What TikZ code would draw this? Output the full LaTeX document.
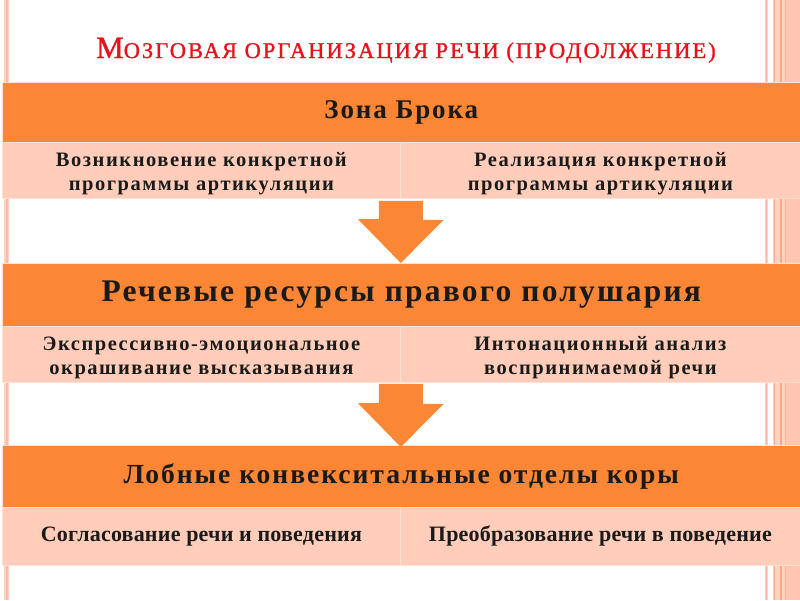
\documentclass[tikz,border=0pt]{standalone}
\usepackage{fontspec}
\setmainfont{Liberation Serif}
\newfontfamily\hdrfont[LetterSpace=7]{Liberation Serif}
\newfontfamily\cellfont[LetterSpace=7.5]{Liberation Serif}
\newfontfamily\lowfont[LetterSpace=1]{Liberation Serif}
\newfontfamily\titlefont[LetterSpace=9,FakeBold=1.2]{Liberation Serif}
\usetikzlibrary{calc}
\definecolor{org}{HTML}{FA8636}
\definecolor{lite}{HTML}{FFCDB9}
\definecolor{litebord}{HTML}{FFE1D4}
\definecolor{ttl}{HTML}{E5131B}
\definecolor{deco}{HTML}{FFD3C2}
\definecolor{decob}{HTML}{FFC7B2}
\definecolor{decod}{HTML}{F8A98C}
\definecolor{txt}{HTML}{1A1A1A}
\begin{document}
\begin{tikzpicture}[x=1pt,y=-1pt,
  hdr/.style={fill=org, draw=litebord, line width=0.6pt, minimum width=798pt, anchor=north west, inner sep=0pt, text=txt},
  cell/.style={fill=lite, draw=litebord, line width=0.8pt, minimum height=56pt, anchor=north west, inner sep=0pt, align=center, text=txt, font=\cellfont\bfseries\fontsize{20.5}{24.5}\selectfont},
  arrowc/.style={fill=org, draw=none}
]
\useasboundingbox (0,0) rectangle (800,600);
\fill[white] (0,0) rectangle (800,600);
% side decorations
\fill[deco] (4,0) rectangle (9,600);
\fill[decod!60!deco] (5.5,0) rectangle (7.5,600);
\fill[deco] (765,0) rectangle (768,600);
\fill[decod!70!deco] (766,0) rectangle (767,600);
\fill[deco] (772.5,0) rectangle (785,600);
\fill[decob] (785,0) rectangle (800,600);
\fill[decod] (773.5,0) rectangle (775,600);
\fill[decod] (779.5,0) rectangle (781.5,600);
\fill[decod!60!decob] (784.5,0) rectangle (786,600);
% title
\node[text=ttl, anchor=base, inner sep=0pt] (title) at (406,58)
  {\titlefont\fontsize{31}{31}\selectfont М\fontsize{22.5}{22.5}\selectfont ОЗГОВАЯ ОРГАНИЗАЦИЯ РЕЧИ (ПРОДОЛЖЕНИЕ)};
% block 1
\node[hdr, minimum height=60pt, font=\hdrfont\bfseries\fontsize{27}{31}\selectfont] (h1) at (2,82) {Зона Брока};
\node[cell, minimum width=398pt] (r1a) at (2,142) {\rule{0pt}{21pt}Возникновение конкретной\\программы артикуляции};
\node[cell, minimum width=400pt] (r1b) at (400,142) {\rule{0pt}{21pt}Реализация конкретной\\программы артикуляции};
% block 2
\node[hdr, minimum height=63pt, font=\hdrfont\bfseries\fontsize{31.5}{35}\selectfont] (h2) at (2,263) {Речевые ресурсы правого полушария};
\node[cell, minimum width=398pt] (r2a) at (2,326) {\rule{0pt}{21pt}Экспрессивно-эмоциональное\\окрашивание высказывания};
\node[cell, minimum width=400pt] (r2b) at (400,326) {\rule{0pt}{21pt}Интонационный анализ\\воспринимаемой речи};
% block 3
\node[hdr, minimum height=62pt, font=\hdrfont\bfseries\fontsize{27.6}{31}\selectfont] (h3) at (2,445) {Лобные конвекситальные отделы коры};
\node[cell, minimum width=398pt, minimum height=58pt, font=\lowfont\bfseries\fontsize{22}{24}\selectfont] (r3a) at (2,507) {Согласование речи и поведения};
\node[cell, minimum width=400pt, minimum height=58pt, font=\lowfont\bfseries\fontsize{22}{24}\selectfont] (r3b) at (400,507) {Преобразование речи в поведение};
% arrows
\fill[arrowc] ($(r1a.south east)+(-22,2)$) -- ++(44,0) -- ++(0,19) -- ++(21,0)
  -- (r1a.south east |- h2.north) -- ++(-43,-44) -- ++(21,0) -- cycle;
\fill[arrowc] ($(r2a.south east)+(-22,1)$) -- ++(44,0) -- ++(0,20) -- ++(21,0)
  -- ($(r2a.south east |- h3.north)+(0,2)$) -- ++(-43,-44) -- ++(21,0) -- cycle;
\end{tikzpicture}
\end{document}
